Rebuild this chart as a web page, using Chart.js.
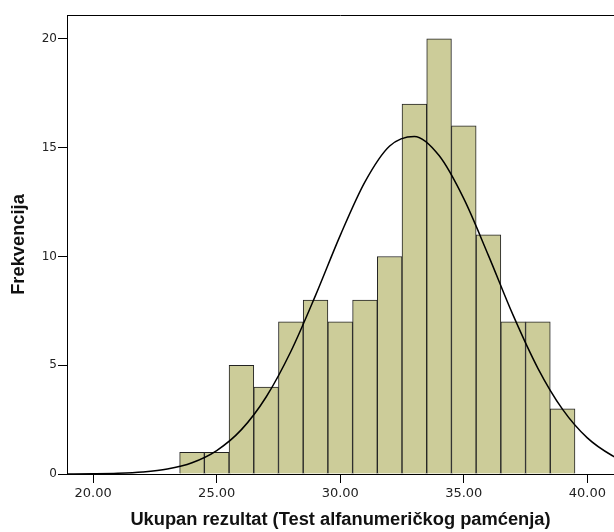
<!DOCTYPE html>
<html>
<head>
<meta charset="utf-8">
<script src="https://cdn.jsdelivr.net/npm/chart.js@4"></script>
<style>
  html, body { margin: 0; padding: 0; background: #fff; }
  #wrap { width: 614px; height: 532px; position: relative; }
</style>
</head>
<body>
<div id="wrap"><canvas id="hist"></canvas></div>
<script>
// histogram bins (bin centres, width 1) and counts
const binCenters = [24, 25, 26, 27, 28, 29, 30, 31, 32, 33, 34, 35, 36, 37, 38, 39];
const counts     = [1, 1, 5, 4, 7, 8, 7, 8, 10, 17, 20, 16, 11, 7, 7, 3];

// normal curve
const curveX = [18.5, 19, 20, 21, 22, 23, 24, 25, 26, 27, 28, 29, 30, 31, 32, 33, 34, 35, 36, 37, 38, 39, 40, 41, 41.5];
const curveY = [0.002, 0.004, 0.012, 0.035, 0.095, 0.23, 0.52, 1.08, 2.04, 3.54, 5.63, 8.21, 10.97, 13.43, 15.08, 15.52, 14.64, 12.66, 10.04, 7.29, 4.86, 2.97, 1.66, 0.85, 0.59];

const xTicks = [20, 25, 30, 35, 40];
const yTicks = [0, 5, 10, 15, 20];

const framePlugin = {
    id: 'frame',
    afterDraw(chart) {
        const a = chart.chartArea, ctx = chart.ctx;
        ctx.save();
        ctx.strokeStyle = '#000';
        ctx.lineWidth = 1;
        ctx.beginPath();
        ctx.moveTo(a.left, a.top + 0.5);
        ctx.lineTo(a.right, a.top + 0.5);
        ctx.stroke();
        ctx.restore();
    }
};

new Chart(document.getElementById('hist'), {
    type: 'bar',
    data: {
        datasets: [
            {
                type: 'line',
                data: curveX.map((x, i) => ({ x: x, y: curveY[i] })),
                borderColor: '#000',
                borderWidth: 1.5,
                pointRadius: 0,
                cubicInterpolationMode: 'monotone',
                order: 0
            },
            {
                type: 'bar',
                data: binCenters.map((x, i) => ({ x: x, y: counts[i] })),
                backgroundColor: 'rgb(204,204,153)',
                borderColor: '#222',
                borderWidth: 1,
                barPercentage: 1,
                categoryPercentage: 1,
                order: 1
            }
        ]
    },
    options: {
        responsive: true,
        maintainAspectRatio: false,
        animation: false,
        layout: { padding: { top: 15, right: 0, left: 0, bottom: 0 } },
        plugins: { legend: { display: false }, tooltip: { enabled: false } },
        scales: {
            x: {
                type: 'linear',
                offset: false,
                min: 18.94,
                max: 41.08,
                afterBuildTicks: s => { s.ticks = xTicks.map(v => ({ value: v })); },
                afterFit: s => { s.height = 58; },
                grid: { display: true, offset: false, drawOnChartArea: false, tickLength: 9, color: '#000' },
                border: { display: true, color: '#000', width: 1 },
                ticks: {
                    padding: 3,
                    color: '#222',
                    font: { family: 'DejaVu Sans', size: 13 },
                    callback: v => v.toFixed(2),
                    maxRotation: 0
                },
                title: {
                    display: true,
                    text: 'Ukupan rezultat (Test alfanumeričkog pamćenja)',
                    color: '#111',
                    font: { family: 'Liberation Sans', size: 18.3, weight: 'bold' },
                    padding: { top: 0, bottom: 1 }
                }
            },
            y: {
                min: 0,
                max: 21.1,
                afterBuildTicks: s => { s.ticks = yTicks.map(v => ({ value: v })); },
                afterFit: s => { s.width = 67; },
                grid: { display: true, drawOnChartArea: false, tickLength: 9, color: '#000' },
                border: { display: true, color: '#000', width: 1 },
                ticks: {
                    padding: 1,
                    color: '#222',
                    font: { family: 'DejaVu Sans', size: 12 }
                },
                title: {
                    display: true,
                    text: 'Frekvencija',
                    color: '#111',
                    font: { family: 'Liberation Sans', size: 18.3, weight: 'bold' },
                    padding: { top: 8, bottom: 0 }
                }
            }
        }
    },
    plugins: [framePlugin]
});
</script>
</body>
</html>
